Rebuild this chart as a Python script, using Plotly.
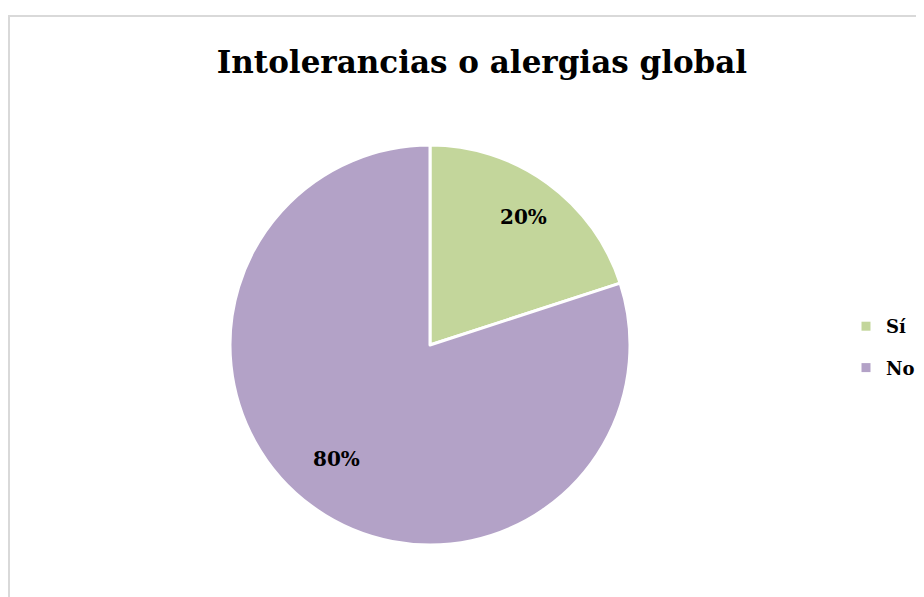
import math
import plotly.graph_objects as go

categories = ["Sí", "No"]
values = [20, 80]
colors = ["#C3D69B", "#B3A2C7"]
title_text = "Intolerancias o alergias global"

W, H = 924, 597
# page is shown with an 8px body margin, so layout positions are offset by -8
cx, cy, r = 422, 337, 200

fig = go.Figure(go.Pie(
    labels=categories,
    values=values,
    sort=False,
    direction="clockwise",
    rotation=0,
    marker=dict(colors=colors, line=dict(color="white", width=3)),
    textinfo="none",
    domain=dict(x=[(cx - r) / W, (cx + r) / W], y=[1 - (cy + r) / H, 1 - (cy - r) / H]),
    hoverinfo="label+percent",
    showlegend=False,
))

# legend entries (square markers) built from the same categories/colours
for cat, col in zip(categories, colors):
    fig.add_trace(go.Scatter(x=[None], y=[None], mode="markers", name=cat, legendgroup=cat,
                             marker=dict(symbol="square", size=9, color=col)))

# percentage labels placed at each slice's mid-angle
total = sum(values)
annotations = []
cum = 0
rr = 198 * 0.8
for v in values:
    mid = (cum + v / 2) / total * 2 * math.pi
    cum += v
    x = cx + rr * math.sin(mid)
    y = cy - rr * math.cos(mid)
    annotations.append(dict(x=x / W, y=1 - y / H, xref="paper", yref="paper", showarrow=False,
                            text="<b>%d%%</b>" % round(v / total * 100),
                            font=dict(family="DejaVu Serif", size=20, color="black")))

fig.update_layout(
    width=W, height=H,
    margin=dict(l=0, r=0, t=0, b=0),
    paper_bgcolor="white",
    plot_bgcolor="white",
    xaxis=dict(visible=False),
    yaxis=dict(visible=False),
    title=dict(text="<b>" + title_text + "</b>", x=474 / W, xanchor="center", y=1 - 54 / H, yanchor="middle",
               font=dict(family="DejaVu Serif", size=31, color="black")),
    legend=dict(x=838 / W, y=1 - 300 / H, xanchor="left", yanchor="top",
                font=dict(family="DejaVu Serif", size=18, color="black", weight="bold"),
                tracegroupgap=15, bgcolor="rgba(0,0,0,0)"),
    annotations=annotations,
    shapes=[dict(type="rect", xref="paper", yref="paper", x0=1 / W, x1=1.02, y0=-0.02, y1=1 - 8 / H,
                 line=dict(color="#D9D9D9", width=2), layer="below")],
)

fig.write_html("out.html")
